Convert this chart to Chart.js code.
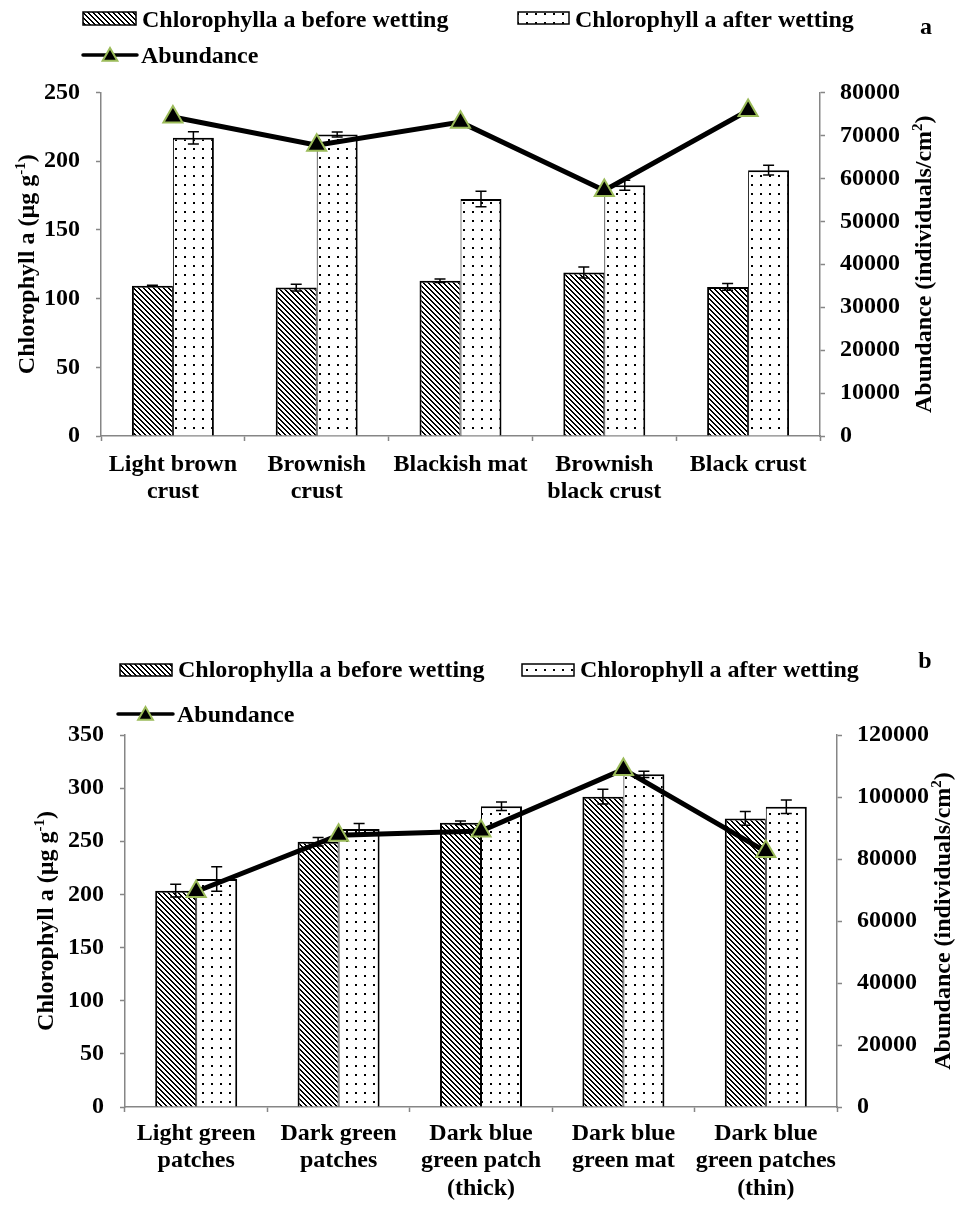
<!DOCTYPE html>
<html>
<head>
<meta charset="utf-8">
<script src="https://cdn.jsdelivr.net/npm/chart.js@4.4.1/dist/chart.umd.min.js"></script>
<style>
  html, body { margin: 0; padding: 0; background: #fff; }
  body { width: 955px; height: 1205px; position: relative; overflow: hidden; }
  .box { position: absolute; left: 0; width: 955px; }
  #boxA { top: 0; height: 560px; }
  #boxB { top: 620px; height: 585px; }
</style>
</head>
<body>
<div class="box" id="boxA"><canvas id="chartA" width="955" height="560"></canvas></div>
<div class="box" id="boxB"><canvas id="chartB" width="955" height="585"></canvas></div>
<script>
// Chlorophyll a before / after wetting + abundance, panels a and b.

// ----- Data: panel a -----
const categoriesA = [['Light brown', 'crust'], ['Brownish', 'crust'], ['Blackish mat'], ['Brownish', 'black crust'], ['Black crust']];
const beforeA = [109.3, 108, 113, 119, 108.5];
const beforeErrA = [0.4, 2.4, 1.2, 4, 2.4];
const afterA = [217, 219.5, 172.5, 182.5, 193.5];
const afterErrA = [4.4, 1.8, 5.6, 3.6, 3.6];
const abundanceA = [74300, 67700, 73100, 57200, 75800];

// ----- Data: panel b -----
const categoriesB = [['Light green', 'patches'], ['Dark green', 'patches'], ['Dark blue', 'green patch', '(thick)'], ['Dark blue', 'green mat'], ['Dark blue', 'green patches', '(thin)']];
const beforeB = [203.5, 249.5, 267.5, 292, 271.5];
const beforeErrB = [6, 4, 1.6, 7, 6.5];
const afterB = [214.5, 261.5, 283, 313, 282.5];
const afterErrB = [11.5, 5.3, 4, 3, 6.3];
const abundanceB = [69500, 87700, 89000, 108900, 82400];

const FONT = "'Liberation Serif', 'Times New Roman', serif";
const AXIS_GRAY = '#868686';
const TRI_GREEN = '#9BBB59';

Chart.defaults.font.family = FONT;
Chart.defaults.font.weight = 'bold';
Chart.defaults.font.size = 24;
Chart.defaults.color = '#000';

// Excel-like fill patterns
function makeHatch() {
  const c = document.createElement('canvas');
  c.width = c.height = 5;
  const g = c.getContext('2d');
  g.fillStyle = '#fff';
  g.fillRect(0, 0, 5, 5);
  g.fillStyle = '#000';
  for (let i = 0; i < 5; i++) {
    g.fillRect(i, i, 1, 1);
    g.fillRect((i + 1) % 5, i, 1, 1);
  }
  return g.createPattern(c, 'repeat');
}

function makeDots() {
  const c = document.createElement('canvas');
  c.width = c.height = 9;
  const g = c.getContext('2d');
  g.fillStyle = '#fff';
  g.fillRect(0, 0, 9, 9);
  g.fillStyle = '#000';
  g.fillRect(4, 4, 2, 2);
  return g.createPattern(c, 'repeat');
}

const hatch = makeHatch();
const dots = makeDots();

// Error bars for bar datasets that carry an `errors` array.
const errorBars = {
  id: 'errorBars',
  afterDatasetDraw(chart, args) {
    const ds = chart.data.datasets[args.index];
    if (!ds.errors) return;
    const yScale = chart.scales[ds.yAxisID || 'y'];
    const ctx = chart.ctx;
    ctx.save();
    ctx.strokeStyle = '#000';
    ctx.lineWidth = 1.5;
    args.meta.data.forEach((bar, i) => {
      const v = ds.data[i];
      const e = ds.errors[i];
      const x = bar.x;
      const lo = yScale.getPixelForValue(v - e);
      const hi = yScale.getPixelForValue(v + e);
      ctx.beginPath();
      ctx.moveTo(x, lo); ctx.lineTo(x, hi);
      ctx.moveTo(x - 5.5, lo); ctx.lineTo(x + 5.5, lo);
      ctx.moveTo(x - 5.5, hi); ctx.lineTo(x + 5.5, hi);
      ctx.stroke();
    });
    ctx.restore();
  },
};

function drawRotatedTitle(ctx, parts, cx, cy) {
  const main = `bold 24px ${FONT}`;
  const sup = `bold 15px ${FONT}`;
  ctx.save();
  ctx.translate(cx, cy);
  ctx.rotate(-Math.PI / 2);
  let w = 0;
  parts.forEach((p) => { ctx.font = p.sup ? sup : main; w += ctx.measureText(p.t).width; });
  let x = -w / 2;
  ctx.fillStyle = '#000';
  ctx.textBaseline = 'alphabetic';
  parts.forEach((p) => {
    ctx.font = p.sup ? sup : main;
    ctx.fillText(p.t, x, p.sup ? -1 : 8);
    x += ctx.measureText(p.t).width;
  });
  ctx.restore();
}

function drawTriangle(ctx, px, py, r) {
  ctx.beginPath();
  for (let k = 0; k < 3; k++) {
    const a = k * 2 * Math.PI / 3;
    const fx = px + Math.sin(a) * r;
    const fy = py - Math.cos(a) * r;
    if (k === 0) ctx.moveTo(fx, fy); else ctx.lineTo(fx, fy);
  }
  ctx.closePath();
  ctx.fill();
  ctx.stroke();
}

// Legend, panel letter and axis titles drawn Excel-style.
const decorations = {
  id: 'decorations',
  afterDraw(chart, args, opts) {
    const ctx = chart.ctx;
    const ds = chart.data.datasets;
    const area = chart.chartArea;
    const cy = (area.top + area.bottom) / 2;
    ctx.save();
    ctx.font = `bold 24px ${FONT}`;
    ctx.fillStyle = '#000';
    ctx.textBaseline = 'alphabetic';

    // bar swatches
    opts.boxes.forEach((b) => {
      const d = ds[b.dataset];
      ctx.fillStyle = d.backgroundColor;
      ctx.fillRect(b.x, b.y, b.w, b.h);
      ctx.strokeStyle = '#000';
      ctx.lineWidth = 1.5;
      ctx.strokeRect(b.x, b.y, b.w, b.h);
      ctx.fillStyle = '#000';
      ctx.fillText(d.label, b.x + b.w + 6, b.ty);
    });

    // line swatch
    const l = opts.line;
    const ld = ds[l.dataset];
    ctx.strokeStyle = '#000';
    ctx.lineWidth = 3.5;
    ctx.lineCap = 'round';
    ctx.beginPath();
    ctx.moveTo(l.x, l.y);
    ctx.lineTo(l.x + l.w, l.y);
    ctx.stroke();
    ctx.fillStyle = '#000';
    ctx.strokeStyle = TRI_GREEN;
    ctx.lineWidth = 2;
    drawTriangle(ctx, l.x + l.w / 2, l.y + 1.5, 8.5);
    ctx.fillStyle = '#000';
    ctx.fillText(ld.label, l.x + l.w + 4, l.ty);

    // panel letter
    ctx.textAlign = 'center';
    ctx.fillText(opts.letter.t, opts.letter.x, opts.letter.y);
    ctx.textAlign = 'left';

    drawRotatedTitle(ctx, [{ t: 'Chlorophyll a (µg g' }, { t: '-1', sup: true }, { t: ')' }], opts.leftTitleX, cy);
    drawRotatedTitle(ctx, [{ t: 'Abundance (individuals/cm' }, { t: '2', sup: true }, { t: ')' }], opts.rightTitleX, cy);
    ctx.restore();
  },
};

function axisBase() {
  return {
    border: { color: AXIS_GRAY, width: 1.5 },
    grid: {
      drawOnChartArea: false, drawTicks: true, tickLength: 5,
      tickColor: AXIS_GRAY, tickWidth: 1.5, color: AXIS_GRAY,
    },
  };
}

function buildPanel(id, labels, before, beforeErr, after, afterErr, abundance, L) {
  const ctx = document.getElementById(id).getContext('2d');
  return new Chart(ctx, {
    data: {
      labels,
      datasets: [
        {
          type: 'line',
          label: 'Abundance',
          data: abundance,
          yAxisID: 'y1',
          order: 0,
          borderColor: '#000',
          borderWidth: 5,
          tension: 0,
          clip: false,
          pointStyle: 'triangle',
          pointRadius: 11,
          pointBackgroundColor: '#000',
          pointBorderColor: TRI_GREEN,
          pointBorderWidth: 2,
        },
        {
          type: 'bar',
          label: 'Chlorophylla a before wetting',
          data: before,
          errors: beforeErr,
          yAxisID: 'y',
          order: 1,
          backgroundColor: hatch,
          borderColor: '#000',
          borderWidth: { top: 2, left: 2, right: 1, bottom: 0 },
          categoryPercentage: L.catPct,
          barPercentage: 1,
        },
        {
          type: 'bar',
          label: 'Chlorophyll a after wetting',
          data: after,
          errors: afterErr,
          yAxisID: 'y',
          order: 1,
          backgroundColor: dots,
          borderColor: '#000',
          borderWidth: { top: 2, left: 1, right: 2, bottom: 0 },
          categoryPercentage: L.catPct,
          barPercentage: 1,
        },
      ],
    },
    options: {
      responsive: false,
      animation: false,
      layout: { padding: { top: L.top, left: 0, right: 0, bottom: 0 } },
      plugins: {
        legend: { display: false },
        tooltip: { enabled: false },
        decorations: L.deco,
      },
      scales: {
        x: {
          ...axisBase(),
          ticks: {
            autoSkip: false, maxRotation: 0, minRotation: 0,
            padding: L.xPad,
            font: { size: 24, weight: 'bold', family: FONT, lineHeight: 1.14 },
          },
          afterFit: (s) => { s.height = L.xHeight; },
        },
        y: {
          ...axisBase(),
          position: 'left',
          min: 0, max: L.leftMax,
          ticks: { stepSize: L.leftStep, padding: 16, callback: (v) => String(v) },
          afterFit: (s) => { s.width = L.left; },
        },
        y1: {
          ...axisBase(),
          position: 'right',
          min: 0, max: L.rightMax,
          ticks: { stepSize: L.rightStep, padding: 15, callback: (v) => String(v) },
          afterFit: (s) => { s.width = 955 - L.right; },
        },
      },
    },
    plugins: [errorBars, decorations],
  });
}

buildPanel('chartA', categoriesA, beforeA, beforeErrA, afterA, afterErrA, abundanceA, {
  top: 92.5, left: 101, right: 820, xHeight: 124, xPad: 10,
  leftMax: 250, leftStep: 50, rightMax: 80000, rightStep: 10000, catPct: 0.57,
  deco: {
    boxes: [
      { dataset: 1, x: 83, y: 12, w: 53, h: 13, ty: 26.5 },
      { dataset: 2, x: 518, y: 12, w: 51, h: 12, ty: 26.5 },
    ],
    line: { dataset: 0, x: 83, y: 55, w: 54, ty: 63.3 },
    letter: { t: 'a', x: 926, y: 34 },
    leftTitleX: 26, rightTitleX: 923,
  },
});

buildPanel('chartB', categoriesB, beforeB, beforeErrB, afterB, afterErrB, abundanceB, {
  top: 115, left: 125, right: 837, xHeight: 98, xPad: 8,
  leftMax: 350, leftStep: 50, rightMax: 120000, rightStep: 20000, catPct: 0.576,
  deco: {
    boxes: [
      { dataset: 1, x: 120, y: 44, w: 52, h: 12, ty: 57 },
      { dataset: 2, x: 522, y: 44, w: 52, h: 12, ty: 57 },
    ],
    line: { dataset: 0, x: 118, y: 94, w: 55, ty: 101.7 },
    letter: { t: 'b', x: 925, y: 48 },
    leftTitleX: 45, rightTitleX: 942,
  },
});
</script>
</body>
</html>
